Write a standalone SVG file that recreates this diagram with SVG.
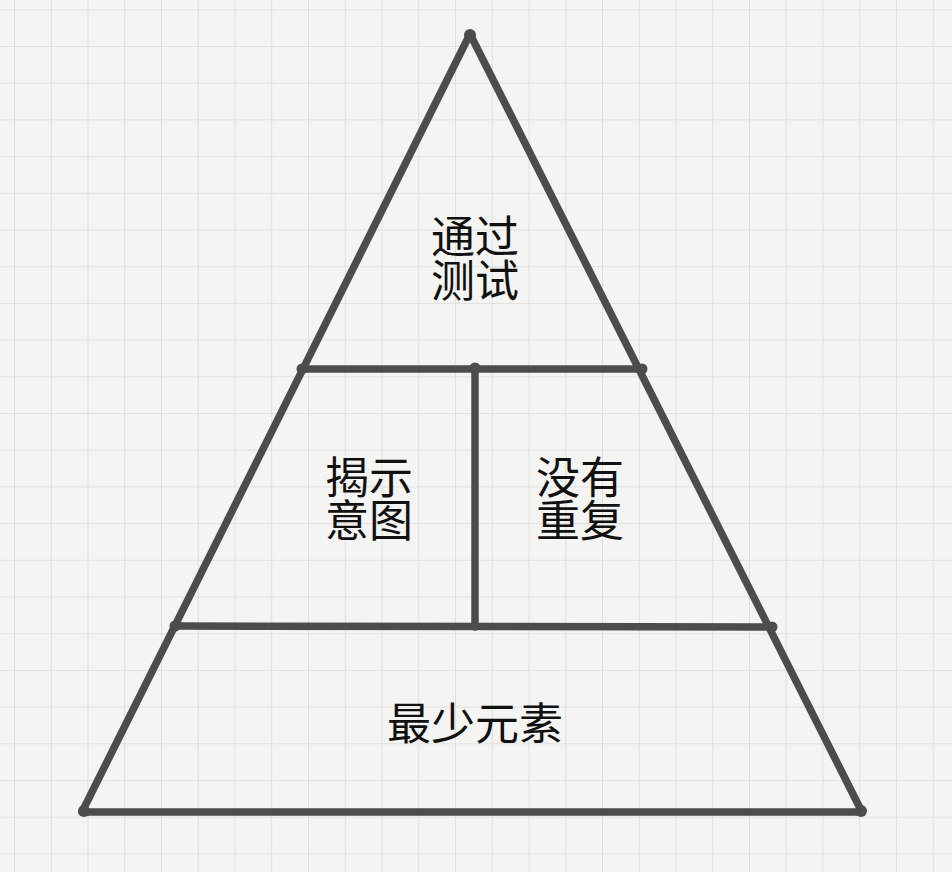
<svg xmlns="http://www.w3.org/2000/svg" width="952" height="872" viewBox="0 0 952 872">
  <defs>
    <style>
      .ln { stroke: #4e4c4a; stroke-width: 7.5; stroke-linecap: round; stroke-linejoin: round; fill: none; }
      .dot { fill: #4e4c4a; }
      .lbl { font-family: "Noto Sans CJK SC", "Noto Sans", sans-serif; font-size: 44px; fill: #111; text-anchor: middle; }
    </style>
    <pattern id="grid" patternUnits="userSpaceOnUse" x="14" y="9.3" width="36.75" height="36.7">
      <rect x="0" y="0" width="36.75" height="36.7" fill="#f4f4f2"/>
      <line x1="0" y1="0" x2="36.75" y2="0" stroke="#dadad7" stroke-width="1.6"/>
      <line x1="0" y1="0" x2="0" y2="36.7" stroke="#dadad7" stroke-width="1.6"/>
    </pattern>
  </defs>
  <rect id="background" x="0" y="0" width="952" height="872" fill="url(#grid)"/>
  <g id="connectors">
    <path class="ln" d="M470,34 L82,812 L862,812 Z"/>
    <line class="ln" x1="302" y1="369" x2="642" y2="369"/>
    <line class="ln" x1="175" y1="626" x2="772" y2="627"/>
    <line class="ln" x1="475" y1="368" x2="475" y2="627"/>
    <circle class="dot" cx="470" cy="35" r="6"/>
    <circle class="dot" cx="84" cy="811" r="6"/>
    <circle class="dot" cx="861" cy="811" r="6"/>
    <circle class="dot" cx="302" cy="369" r="5.5"/>
    <circle class="dot" cx="642" cy="369" r="5.5"/>
    <circle class="dot" cx="475" cy="368" r="5.5"/>
    <circle class="dot" cx="175" cy="626" r="5.5"/>
    <circle class="dot" cx="772" cy="627" r="5.5"/>
  </g>
  <g id="node-tests">
    <text class="lbl" x="475" y="253"><tspan x="475" y="253">通过</tspan><tspan x="475" y="297">测试</tspan></text>
  </g>
  <g id="node-intent">
    <text class="lbl" x="369" y="494"><tspan x="369" y="494">揭示</tspan><tspan x="369" y="537">意图</tspan></text>
  </g>
  <g id="node-nodup">
    <text class="lbl" x="580" y="494"><tspan x="580" y="494">没有</tspan><tspan x="580" y="537">重复</tspan></text>
  </g>
  <g id="node-minimal">
    <text class="lbl" x="475" y="740">最少元素</text>
  </g>
</svg>
